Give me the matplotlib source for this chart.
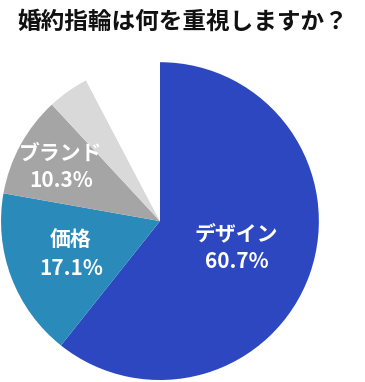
import numpy as np
import matplotlib
matplotlib.use('Agg')
import matplotlib.pyplot as plt

plt.rcParams['font.family'] = ['Noto Sans CJK JP', 'DejaVu Sans']

title = '婚約指輪は何を重視しますか？'
labels = ['デザイン', '価格', 'ブランド', 'その他', '']
values = [60.7, 17.1, 10.3, 4.2, 7.7]
colors = ['#2D47C0', '#2A8BBA', '#A5A5A5', '#D9D9D9', '#FFFFFF']
label_dist = [0.51, 0.60, 0.71]  # how far from centre each inner label sits

fig = plt.figure(figsize=(3.65, 3.82), dpi=100)
ax = fig.add_axes([0.0027, 0.0052, 0.871, 0.832])

wedges, _ = ax.pie(values, colors=colors, startangle=90, counterclock=False,
                   radius=1, labeldistance=None,
                   wedgeprops=dict(linewidth=0, edgecolor='none'))
ax.set_xlim(-1, 1)
ax.set_ylim(-1, 1)
ax.set_aspect('equal')
ax.axis('off')

for i, d in enumerate(label_dist):  # only the three big slices get text
    w = wedges[i]
    mid = np.deg2rad((w.theta1 + w.theta2) / 2)
    x, y = d * np.cos(mid), d * np.sin(mid)
    ax.text(x, y, '{}\n{:.1f}%'.format(labels[i], values[i]), ha='center', va='center',
            color='white', fontsize=15, fontweight='bold', linespacing=1.4)

fig.text(0.5, 0.942, title, ha='center', va='center', fontsize=17,
         fontweight='bold', color='#111111')

fig.savefig('out.png', dpi=100)
